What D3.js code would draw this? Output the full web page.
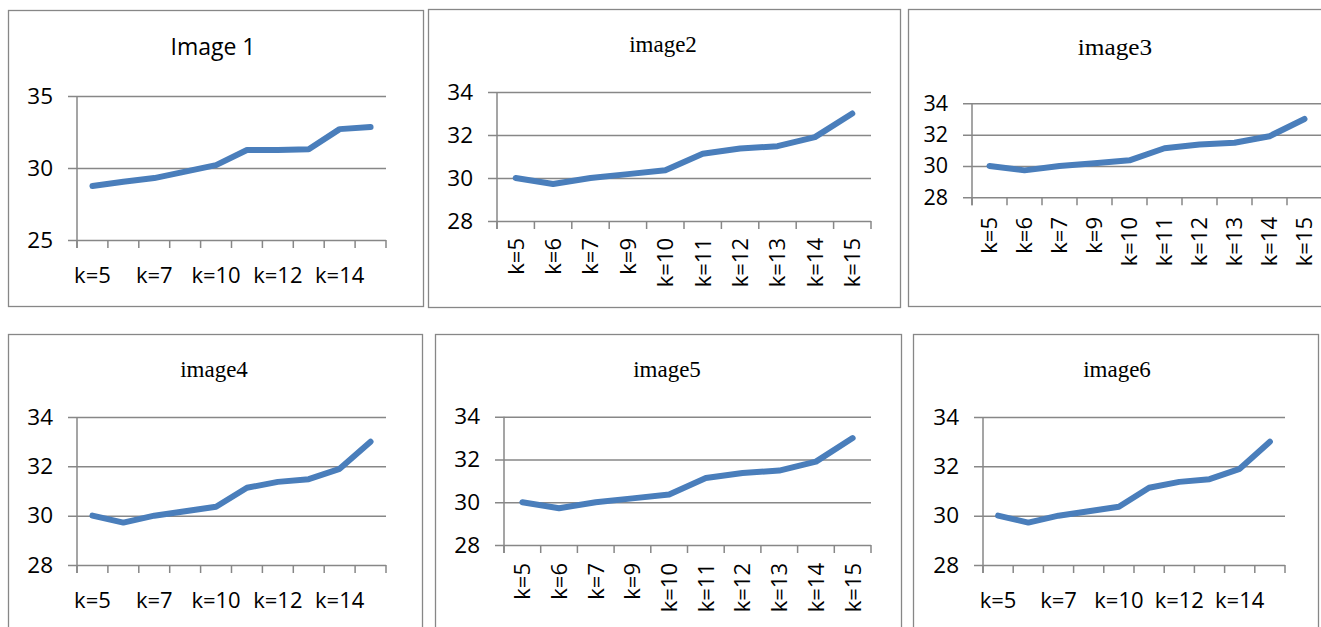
<!DOCTYPE html>
<html>
<head>
<meta charset="utf-8">
<script src="https://cdn.jsdelivr.net/npm/d3@7"></script>
<style>
  html, body { margin: 0; padding: 0; background: #fff; }
  svg { display: block; }
</style>
</head>
<body>
<svg id="chart" width="1321" height="627"></svg>
<script>
// Categories (number of clusters k) shared by all six charts
const categories = ["k=5", "k=6", "k=7", "k=9", "k=10", "k=11", "k=12", "k=13", "k=14", "k=15"];

// Series values
const image1Values = [28.75, 29.05, 29.3, 29.75, 30.2, 31.25, 31.25, 31.3, 32.7, 32.85];
const image2Values = [30.0, 29.72, 30.0, 30.18, 30.36, 31.13, 31.37, 31.48, 31.9, 33.0];
const image3Values = [30.0, 29.72, 30.0, 30.18, 30.36, 31.13, 31.37, 31.48, 31.9, 33.0];
const image4Values = [30.0, 29.72, 30.0, 30.18, 30.36, 31.13, 31.37, 31.48, 31.9, 33.0];
const image5Values = [30.0, 29.72, 30.0, 30.18, 30.36, 31.13, 31.37, 31.48, 31.9, 33.0];
const image6Values = [30.0, 29.72, 30.0, 30.18, 30.36, 31.13, 31.37, 31.48, 31.9, 33.0];

// Axis tick labels
const image1Ticks = [25, 30, 35];
const otherTicks = [28, 30, 32, 34];

// Chart titles
const titles = ["Image 1", "image2", "image3", "image4", "image5", "image6"];

const GRID = "#878787";
const LINE = "#4a7ebb";
const SANS = "'Open Sans', 'Liberation Sans', sans-serif";
const SERIF = "'Liberation Serif', 'Times New Roman', serif";

// Frame and plot-area geometry of each chart
const layout = [
  { frame: [8, 10, 423, 306], plot: [77, 96, 386, 240], title: [213, 55], titleFont: SANS, titleSize: 23,
    values: image1Values, ticks: image1Ticks, rotated: false, labelY: 283 },
  { frame: [428, 9, 900, 307], plot: [497, 92, 871, 221], title: [663, 52], titleFont: SERIF, titleSize: 23,
    values: image2Values, ticks: otherTicks, rotated: true, labelY: 238 },
  { frame: [908, 9, 1340, 306], plot: [972, 103.3, 1322, 197.3], title: [1115, 55], titleFont: SERIF, titleSize: 23, titleStretch: 1.1,
    values: image3Values, ticks: otherTicks, rotated: true, labelY: 217 },
  { frame: [8, 334, 422, 650], plot: [77, 417, 386, 565], title: [214, 377], titleFont: SERIF, titleSize: 23,
    values: image4Values, ticks: otherTicks, rotated: false, labelY: 608 },
  { frame: [435, 334, 901, 650], plot: [504, 416.7, 871, 545], title: [667, 377], titleFont: SERIF, titleSize: 23,
    values: image5Values, ticks: otherTicks, rotated: true, labelY: 563 },
  { frame: [913, 334, 1318, 650], plot: [983, 417, 1285, 565], title: [1117, 377], titleFont: SERIF, titleSize: 23,
    values: image6Values, ticks: otherTicks, rotated: false, labelY: 608 }
];

const svg = d3.select("#chart");

layout.forEach((cfg, idx) => {
  const [fx0, fy0, fx1, fy1] = cfg.frame;
  const [px0, py0, px1, py1] = cfg.plot;
  const g = svg.append("g");

  // outer frame
  g.append("rect")
    .attr("x", fx0 + 0.5).attr("y", fy0 + 0.5)
    .attr("width", fx1 - fx0).attr("height", fy1 - fy0)
    .attr("fill", "#fff").attr("stroke", GRID).attr("stroke-width", 1.3);

  // title
  const t = g.append("text")
    .attr("text-anchor", "middle")
    .attr("font-family", cfg.titleFont)
    .attr("font-size", cfg.titleSize)
    .attr("fill", "#000")
    .text(titles[idx]);
  if (cfg.titleStretch) {
    t.attr("transform", `translate(${cfg.title[0]},${cfg.title[1]}) scale(${cfg.titleStretch},1)`);
  } else {
    t.attr("x", cfg.title[0]).attr("y", cfg.title[1]);
  }

  const x = d3.scaleBand().domain(categories).range([px0, px1]).paddingInner(0).paddingOuter(0);
  const yMin = d3.min(cfg.ticks), yMax = d3.max(cfg.ticks);
  const y = d3.scaleLinear().domain([yMin, yMax]).range([py1, py0]);

  // horizontal gridlines + value labels
  const yAxis = g.append("g")
    .attr("transform", `translate(${px0 - 9},0)`)
    .call(d3.axisLeft(y).tickValues(cfg.ticks).tickSize(-(px1 - px0 + 9)).tickPadding(15).tickFormat(d3.format("d")));
  yAxis.select(".domain").remove();
  yAxis.selectAll(".tick line").attr("stroke", GRID).attr("stroke-width", 1.5);
  yAxis.selectAll(".tick text")
    .attr("font-family", SANS).attr("font-size", idx === 2 ? 21.5 : 22.5).attr("fill", "#000");

  // vertical axis line with the category boundary ticks
  const bounds = categories.map(c => x(c)).concat([x.range()[1]]);
  g.append("g").selectAll("line").data(bounds).join("line")
    .attr("x1", d => d).attr("x2", d => d)
    .attr("y1", py1).attr("y2", py1 + 8)
    .attr("stroke", GRID).attr("stroke-width", 1.5);
  g.append("line")
    .attr("x1", px0).attr("x2", px0).attr("y1", py0).attr("y2", py1 + 8)
    .attr("stroke", GRID).attr("stroke-width", 1.5);

  // category labels
  const bw = x.bandwidth();
  if (cfg.rotated) {
    g.append("g").selectAll("text").data(categories).join("text")
      .attr("transform", d => `translate(${x(d) + bw / 2},${cfg.labelY}) rotate(-90)`)
      .attr("text-anchor", "end")
      .attr("dy", "0.36em")
      .attr("font-family", SANS).attr("font-size", 22).attr("fill", "#000")
      .text(d => d);
  } else {
    const shown = categories.filter((d, i) => i % 2 === 0);
    g.append("g").selectAll("text").data(shown).join("text")
      .attr("x", d => x(d) + bw / 2)
      .attr("y", cfg.labelY)
      .attr("text-anchor", "middle")
      .attr("font-family", SANS).attr("font-size", 22).attr("fill", "#000")
      .text(d => d);
  }

  // series line
  const line = d3.line()
    .x((d, i) => x(categories[i]) + bw / 2)
    .y(d => y(d));
  g.append("path")
    .datum(cfg.values)
    .attr("d", line)
    .attr("fill", "none")
    .attr("stroke", LINE)
    .attr("stroke-width", 6)
    .attr("stroke-linecap", "round")
    .attr("stroke-linejoin", "round");
});
</script>
</body>
</html>
